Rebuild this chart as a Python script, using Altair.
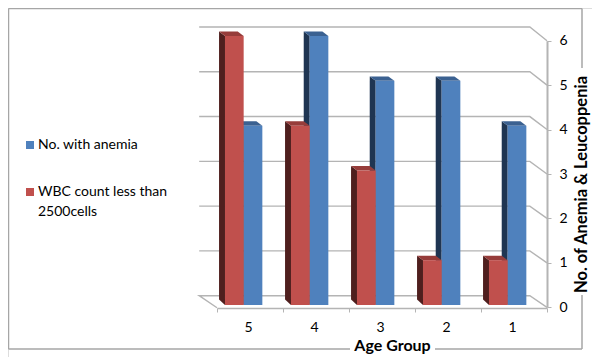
import altair as alt
import pandas as pd

ages = ["5", "4", "3", "2", "1"]
anemia = [4, 6, 5, 5, 4]
wbc = [6, 4, 3, 1, 1]
levels = [0, 1, 2, 3, 4, 5, 6]
series_names = ["No. with anemia", "WBC count less than|2500cells"]
series_colors = ["#4F81BD", "#C0504D"]

FONT = "Lato"
W, H = 584, 349
BAR = 0.283      # bar width, in category units
DX = 0.09        # 3-D depth, in category units
DY_TOP = 0.098   # 3-D rise of the top face, in value units
DY_BOT = 0.123   # 3-D rise of the floor edge, in value units
RED_START = 0.121
BLUE_START = RED_START + BAR

x_scale = alt.Scale(domain=[0, 5], range=[209, 539], nice=False, zero=False)
y_scale = alt.Scale(domain=[0, 6], range=[297, 28], nice=False, zero=False)
wall_scale = alt.Scale(domain=[0, 6], range=[287.7, 19], nice=False, zero=False)


def faces(values, start):
    side, top, front = [], [], []
    for i, v in enumerate(values):
        l, r = i + start, i + start + BAR
        front.append({"age": i, "x": l, "x2": r, "y": v})
        side += [
            {"age": i, "x": l - DX, "y": v + DY_TOP, "y2": DY_BOT},
            {"age": i, "x": l, "y": v, "y2": 0},
        ]
        top += [
            {"age": i, "x": l, "x2": r, "y": v},
            {"age": i, "x": l - DX, "x2": r - DX, "y": v + DY_TOP},
        ]
    return pd.DataFrame(side), pd.DataFrame(top), pd.DataFrame(front)


def bar_layers(values, start, name, side_col, top_col):
    side, top, front = faces(values, start)
    front["series"] = name
    s = alt.Chart(side).mark_area(color=side_col, interpolate="linear").encode(
        x=alt.X("x:Q", scale=x_scale, axis=None),
        y=alt.Y("y:Q", scale=y_scale, axis=None),
        y2="y2:Q",
        detail="age:N",
    )
    t = alt.Chart(top).mark_area(color=top_col, orient="horizontal", interpolate="linear").encode(
        x=alt.X("x:Q", scale=x_scale, axis=None),
        x2="x2:Q",
        y=alt.Y("y:Q", scale=y_scale, axis=None),
        detail="age:N",
    )
    f = alt.Chart(front).mark_rect().encode(
        x=alt.X("x:Q", scale=x_scale, axis=None),
        x2="x2:Q",
        y=alt.Y("y:Q", scale=y_scale, axis=None),
        y2=alt.datum(0),
        color=alt.Color(
            "series:N",
            scale=alt.Scale(domain=series_names, range=series_colors),
            legend=alt.Legend(
                title=None, orient="none", legendX=15, legendY=130,
                symbolType="square", symbolSize=64, symbolStrokeWidth=0,
                labelFont=FONT, labelFontSize=14, labelColor="#000000",
                labelExpr="split(datum.label, '|')", labelLimit=200,
                rowPadding=33, labelOffset=1,
            ),
        ),
    )
    return [s, t, f]


# back wall gridlines with their diagonal run to the value axis
rows = []
for lv in levels:
    pts = [(-0.27, lv), (4.74, lv), (5, lv - (0.259 + 0.0078 * lv))]
    if lv == 0:
        pts = [(0, -0.27)] + pts
    for k, (px, py) in enumerate(pts):
        rows.append({"lv": lv, "k": k, "x": px, "y": py})
grid = alt.Chart(pd.DataFrame(rows)).mark_line(color="#b4b4b4", strokeWidth=1.4).encode(
    x=alt.X("x:Q", scale=x_scale, axis=None),
    y=alt.Y("y:Q", scale=wall_scale, axis=None),
    detail="lv:N",
    order="k:Q",
)

# real axes
x_axis = alt.Chart(pd.DataFrame({"age": ages})).mark_point(opacity=0).encode(
    x=alt.X("age:N", sort=ages,
            scale=alt.Scale(domain=ages, range=[209, 539]),
            axis=alt.Axis(
                orient="bottom", offset=-49, title="Age Group", labelAngle=0,
                domainColor="#b4b4b4", domainWidth=1.5, tickColor="#b4b4b4", tickSize=4,
                tickBand="extent", grid=False, labelPadding=8, labelOffset=-2,
                labelFont=FONT, labelFontSize=14, labelColor="#000000",
                titleFont=FONT, titleFontSize=16, titleFontWeight="bold", titleColor="#000000",
                titleX=384, titleY=37, titleBaseline="middle", titleAlign="center",
            )),
    y=alt.value(100),
)
y_axis = alt.Chart(pd.DataFrame({"lv": levels})).mark_point(opacity=0).encode(
    x=alt.value(500),
    y=alt.Y("lv:Q",
            scale=alt.Scale(domain=[0, 6], range=[299.3, 32.7], nice=False, zero=False),
            axis=alt.Axis(
                orient="right", offset=-45, values=levels, format="d", title="No. of Anemia & Leucoppenia",
                domainColor="#b4b4b4", domainWidth=2, tickColor="#b4b4b4", tickSize=4,
                grid=False, labelPadding=8,
                labelFont=FONT, labelFontSize=14, labelColor="#000000",
                titleFont=FONT, titleFontSize=16.5, titleFontWeight="bold", titleColor="#000000",
                titleAngle=270, titleX=34.7, titleY=176, titleBaseline="middle", titleAlign="center",
            )),
)

# chart frame, interrupted by the two axis titles
frame_rows = [
    (0.5, 574, 0.5, 0.5), (0.5, 0.5, 0.5, 341), (0.5, 342, 341, 341), (427, 574, 341, 341),
    (574, 574, 0.5, 60), (574, 574, 287, 341),
]
frame = [
    alt.Chart(pd.DataFrame({"a": [0]})).mark_rule(color="#a6a6a6", strokeWidth=1.5).encode(
        x=alt.value(a), x2=alt.value(b), y=alt.value(c), y2=alt.value(d))
    for a, b, c, d in frame_rows
]

layers = frame + [grid, x_axis, y_axis]
layers += bar_layers(anemia, BLUE_START, series_names[0], "#1F3552", "#3B6191")
layers += bar_layers(wbc, RED_START, series_names[1], "#4F1F1E", "#963C3A")

chart = alt.layer(*layers).resolve_scale(x="independent", y="independent").properties(
    width=W, height=H, padding=0,
    autosize=alt.AutoSizeParams(type="none"),
).configure_view(stroke=None).configure(
    background="white",
    style={"guide-label": {"lineHeight": 20}},
)

chart.save("out.html", embed_options={"renderer": "svg", "actions": False})
